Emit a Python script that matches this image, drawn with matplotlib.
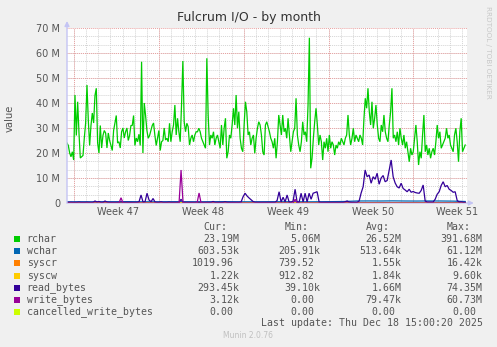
import numpy as np
import matplotlib
matplotlib.use("Agg")
import matplotlib.pyplot as plt
from matplotlib.patches import Rectangle

W, H = 497, 347

title = "Fulcrum I/O - by month"
weeks = ["Week 47", "Week 48", "Week 49", "Week 50", "Week 51"]
span_days = 33
data_end = 32.85
first_monday = 0.58
label_offset = 3.63

# rchar in M, roughly every 1.33 px of the month graph
rchar = [
    24, 23, 20, 18.5, 20.5, 17.2, 43.2, 27, 40.5, 28, 18, 18.5, 19, 26, 32, 47.2, 33, 23, 31, 36,
    32, 43, 45.9, 24, 20, 31, 22, 27, 29, 28, 22, 28, 25, 23, 21, 29, 32, 35, 24, 24.5,
    22, 28.5, 30, 26, 28.5, 30, 25, 27, 31, 31, 35, 23, 26, 24.5, 27.5, 23, 56.5, 20, 40, 35,
    29, 25.9, 27, 29, 31, 32, 27, 23, 26, 29, 21, 24.5, 25, 30,
    25.2, 25.9, 24.5, 31.9, 24.5, 28.5, 31.2, 39.2, 27.2, 33.9, 28.5, 24.5, 39.2, 56.8, 32.5, 28.5,
    31.9, 30.5, 23.2, 25.9, 27.2, 24.5, 27.2, 28.5, 28.5, 29.9, 28.5, 25.9, 24.5, 23.2, 21.9, 57.9,
    35.2, 23.2, 27.2, 25.9, 28.5, 23.2, 25.9, 27.2, 24.5, 21.9, 31.2, 23.2, 29.9, 33.9, 17.9, 20.5,
    27.2, 25.9, 31.2, 37.9, 31.2, 43.2, 29.9, 36.5, 25.9, 21.9, 20.5, 31.2, 40.5, 36.5, 27.2, 28.5,
    23.2, 25.9, 27.2, 19.9, 25.9, 29.9, 32.5, 31.2, 27.2, 20.5, 19.2,
    31.2, 32.5, 30.5, 28.5, 25.9, 24.5, 21.9, 25.9, 17.9, 24.5, 35.2, 31.2, 27.2, 35.2, 28.5, 29.9,
    25.9, 33.9, 27.2, 20.5, 24.5, 28.5, 29.9, 41.9, 27.2, 23.2, 20.5, 24.5, 32.5, 27.2, 28.5, 24.5,
    39.2, 66.1, 13.9, 17.9, 25.9, 32.5, 37.9, 31.2, 23.2, 27.2, 24.5, 17.2, 24.5, 21.9, 25.9, 20.5,
    27.2, 21.9, 24.5, 23.2, 19.2, 23.2, 21.9, 24.5, 23.2, 25.9, 24.5, 23.2, 25.9, 27.2, 35.2, 27.2,
    23.2, 25.9, 29.9, 24.5, 27.2, 25.9, 24.5, 27.2, 25.9, 23.2, 33.9,
    41.9, 37.9, 45.9, 36.5, 31.2, 40.5, 29.9, 33.9, 39.2, 31.2, 25.9, 24.5, 31.2, 28.5, 35.2, 28.5,
    25.9, 24.5, 31.2, 36.5, 45.9, 25.9, 27.2, 24.5, 28.5, 23.2, 29.9, 25.9, 23.2, 27.2, 21.9, 24.5,
    20.5, 16.5, 21.9, 19.2, 20.5, 25.9, 31.2, 24.5, 15.2, 20.5, 17.9, 27.2, 35.2, 20.5, 23.2, 19.2,
    21.9, 17.9, 20.5, 21.9, 19.2, 24.5, 31.2, 25.9, 28.5, 21.9, 23.2, 24.5, 25.9, 29.9, 25.9, 27.2,
    23.2, 21.9, 20.5, 27.2, 29.9, 24.5, 16.5, 28.5, 33.9, 20.5, 21.9, 23.2,
]

# daily values in M
wchar = [0.45, 0.5, 0.48, 0.52, 0.5, 0.55, 0.5, 0.48, 0.5, 0.52, 0.5, 0.47, 0.5, 0.55, 0.5, 0.48, 0.5,
         0.52, 0.5, 0.5, 0.48, 0.5, 0.55, 0.6, 0.8, 0.82, 0.8, 0.85, 0.8, 0.78, 0.82, 0.8, 0.75, 0.6]
syscr = [0.0015, 0.0014, 0.0016, 0.0015, 0.0015, 0.0017, 0.0014, 0.0015, 0.0016, 0.0015, 0.0014, 0.0015,
         0.0016, 0.0015, 0.0015, 0.0014, 0.0016, 0.0015, 0.0015, 0.0016, 0.0014, 0.0015, 0.0016, 0.0015,
         0.0016, 0.0015, 0.0014, 0.0016, 0.0015, 0.0015, 0.0016, 0.0015, 0.0014, 0.001]
syscw = [0.0018, 0.0019, 0.0018, 0.0017, 0.0018, 0.0019, 0.0018, 0.0018, 0.0017, 0.0018, 0.0019, 0.0018,
         0.0018, 0.0017, 0.0018, 0.0019, 0.0018, 0.0018, 0.0017, 0.0018, 0.0019, 0.0018, 0.0018, 0.0017,
         0.0018, 0.0019, 0.0018, 0.0018, 0.0017, 0.0018, 0.0019, 0.0018, 0.0018, 0.0012]
cancelled = [0.0] * 34

# every 2 px, in M
read_bytes = [
    0.3, 0.3, 0.35, 0.3, 0.3, 0.3, 0.4, 0.3, 0.3, 0.3, 0.35, 0.3, 0.3, 0.3, 0.8, 0.4, 0.6, 0.3, 0.3, 0.8,
    0.4, 0.3, 0.3, 0.3, 0.3, 0.3, 0.3, 0.4, 0.3, 0.3, 0.3, 0.3, 0.3, 0.3, 0.3, 0.3, 0.5, 3.2, 0.4, 0.5,
    3.9, 1.2, 0.5, 1.8, 0.4, 0.3, 0.3, 0.5, 0.3, 0.3, 0.3, 0.4, 0.3, 0.3, 0.3, 0.3, 0.3, 1.5, 0.3, 0.3,
    0.3, 0.3, 0.3, 0.3, 0.3, 0.35, 0.3, 0.3, 0.3, 0.3, 0.3, 0.3, 0.3, 0.6, 0.3, 0.3, 0.3, 0.3, 0.3, 0.5,
    0.3, 0.3, 0.3, 0.3, 0.3, 0.3, 0.3, 0.4, 2.5, 3.9, 2.8, 2.0, 1.3, 0.6, 0.3, 0.3, 0.3, 0.3, 0.3, 0.3,
    0.3, 0.3, 0.3, 0.3, 0.3, 1.0, 4.5, 0.4, 2.3, 0.4, 3.2, 0.4, 0.3, 0.8, 5.5, 0.4, 0.3, 3.9, 0.4, 3.9,
    0.4, 3.9, 1.5, 3.9, 4.2, 4.5, 0.4, 0.3, 0.3, 0.3, 0.3, 0.3, 0.3, 0.3, 0.3, 0.3, 0.3, 0.3, 0.3, 0.5,
    0.8, 0.4, 0.3, 0.3, 0.3, 0.3, 0.8, 4.0, 6.5, 13.2, 10.5, 11.2, 7.9, 10.5, 9.5, 11.9, 7.5, 10.0, 11.0, 8.5,
    9.0, 13.0, 17.2, 10.5, 8.0, 6.5, 6.0, 7.9, 5.8, 5.2, 4.5, 5.5, 4.3, 4.6, 4.2, 4.0, 3.9, 5.0, 7.2, 0.8,
    0.4, 0.4, 0.4, 0.4, 1.5, 3.5, 4.5, 7.0, 8.5, 6.5, 7.0, 5.5, 5.0, 4.3, 4.5, 1.0, 0.4, 0.5, 0.3, 0.3,
]
write_bytes = [
    0, 0, 0, 0, 0, 0, 0, 0, 0, 0, 0, 0, 0, 0, 0, 0, 0, 0, 0, 0,
    0, 0, 0, 0, 0, 0, 0, 2.1, 0, 0, 0, 0, 0, 0, 0, 0, 0, 0, 0, 0,
    0, 0, 0, 0, 0, 0, 0, 0, 0, 0, 0, 0, 0, 0, 0, 0, 0, 13.2, 0, 0,
    0, 0, 0, 0, 0, 0, 4.0, 0, 0, 0, 0, 0, 0, 0, 0, 0, 0, 0, 0, 0,
    0, 0, 0, 0, 0, 0, 0, 0, 0, 0, 0, 0, 0, 0, 0, 0, 0, 0, 0, 0,
    0, 0, 0, 0, 0, 0, 0, 0, 0, 0, 0, 0, 0, 0, 1.5, 0, 0, 0, 0, 0,
    0, 0, 0, 0, 0, 0, 0, 0, 0, 0, 0, 0, 0, 0, 0, 0, 0, 0, 0, 0,
    0, 0, 0, 0, 0, 0, 0, 0, 0, 0, 0, 0, 0, 0, 0, 0, 0, 0, 0, 0,
    0, 0, 0, 0, 0, 0, 0, 0, 0, 0, 0, 0, 0, 0, 0, 0, 0, 0, 0, 0,
    0, 0, 0, 0, 0, 0, 0, 0, 0, 0, 0, 0, 0, 0, 0, 0, 0, 0, 0, 0,
]

names = ["rchar", "wchar", "syscr", "syscw", "read_bytes", "write_bytes", "cancelled_write_bytes"]
colors = ["#00CC00", "#0066B3", "#FF8000", "#FFCC00", "#330099", "#990099", "#CCFF00"]
series = [rchar, wchar, syscr, syscw, read_bytes, write_bytes, cancelled]
cur = ["23.19M", "603.53k", "1019.96", "1.22k", "293.45k", "3.12k", "0.00"]
mins = ["5.06M", "205.91k", "739.52", "912.82", "39.10k", "0.00", "0.00"]
avgs = ["26.52M", "513.64k", "1.55k", "1.84k", "1.66M", "79.47k", "0.00"]
maxs = ["391.68M", "61.12M", "16.42k", "9.60k", "74.35M", "60.73M", "0.00"]
last_update = "Last update: Thu Dec 18 15:00:20 2025"

txt = "#555555"
mono = "DejaVu Sans Mono"
cw = 5.95  # mono char width in px


def fx(x):
    return x / W


def fy(y):
    return 1 - y / H


fig = plt.figure(figsize=(W / 100, H / 100), dpi=100, facecolor="#F0F0F0")
ax = fig.add_axes([fx(67), fy(203), 400 / W, 175 / H])
ax.set_facecolor("white")
ax.set_xlim(0, span_days)
ax.set_ylim(0, 70)
for s in ax.spines.values():
    s.set_visible(False)

dots = (0, (1, 1))
for d in np.arange(first_monday, span_days, 1):
    ax.axvline(d, color="#D4D4D4", lw=0.7, ls=dots, zorder=0)
for v in np.arange(10 / 3, 70, 10 / 3):
    ax.axhline(v, color="#D4D4D4", lw=0.7, ls=dots, zorder=0)
for d in np.arange(first_monday, span_days, 7):
    ax.axvline(d, color="#E8A0A0", lw=0.7, ls=dots, zorder=1)
for v in range(10, 71, 10):
    ax.axhline(v, color="#E8A0A0", lw=0.7, ls=dots, zorder=1)

for vals, c in zip(series, colors):
    t = np.linspace(0, data_end, len(vals))
    ax.plot(t, vals, color=c, lw=0.9, zorder=3, solid_joinstyle="miter")

axis_c = "#C4C4F4"
ax.annotate("", xy=(0, 1.04), xytext=(0, 0), xycoords="axes fraction",
            arrowprops=dict(arrowstyle="-|>", color=axis_c, lw=1, mutation_scale=7,
                            shrinkA=0, shrinkB=0), annotation_clip=False, zorder=4)
ax.annotate("", xy=(1.017, 0), xytext=(0, 0), xycoords="axes fraction",
            arrowprops=dict(arrowstyle="-|>", color=axis_c, lw=1, mutation_scale=7,
                            shrinkA=0, shrinkB=0), annotation_clip=False, zorder=2)

ax.set_yticks(range(0, 71, 10), ["0"] + [f"{v} M" for v in range(10, 71, 10)])
week_pos = [first_monday + label_offset + 7 * k for k in range(len(weeks))]
ax.set_xticks(week_pos, weeks)
ax.tick_params(axis="both", length=0, labelsize=7, labelcolor=txt)
ax.tick_params(axis="y", pad=5)
ax.tick_params(axis="x", pad=3)

fig.text(fx(248.5), fy(18), title, ha="center", va="center", fontsize=9, color="#333333")
fig.text(fx(10), fy(118), "value", rotation=90, ha="center", va="center", fontsize=7.2, color=txt)
fig.text(fx(488), fy(52), "RRDTOOL / TOBI OETIKER", rotation=-90, ha="center", va="center",
         fontsize=5.2, color="#C8C8C8")

edges = [239.3, 320.7, 401.7, 482.7]
for e, h in zip(edges, ["Cur:", "Min:", "Avg:", "Max:"]):
    fig.text(fx(e - 2 * cw), fy(227.3), h, ha="right", va="center", family=mono, fontsize=7.1, color=txt)

for i, (name, c) in enumerate(zip(names, colors)):
    y = 239.3 + 12.07 * i
    fig.add_artist(Rectangle((fx(14), fy(y + 3)), 6 / W, 6 / H, transform=fig.transFigure,
                             facecolor=c, edgecolor="none"))
    fig.text(fx(26.7), fy(y), name, ha="left", va="center", family=mono, fontsize=7.1, color=txt)
    for e, v in zip(edges, [cur[i], mins[i], avgs[i], maxs[i]]):
        xe = e if v[-1].isalpha() else e - cw
        fig.text(fx(xe), fy(y), v, ha="right", va="center", family=mono, fontsize=7.1, color=txt)

fig.text(fx(482.7), fy(323.3), last_update, ha="right", va="center", family=mono, fontsize=7.1, color=txt)
fig.text(fx(248), fy(336), "Munin 2.0.76", ha="center", va="center", fontsize=5.5, color="#C0C0C0")

fig.savefig("out.png", dpi=100, facecolor=fig.get_facecolor())
